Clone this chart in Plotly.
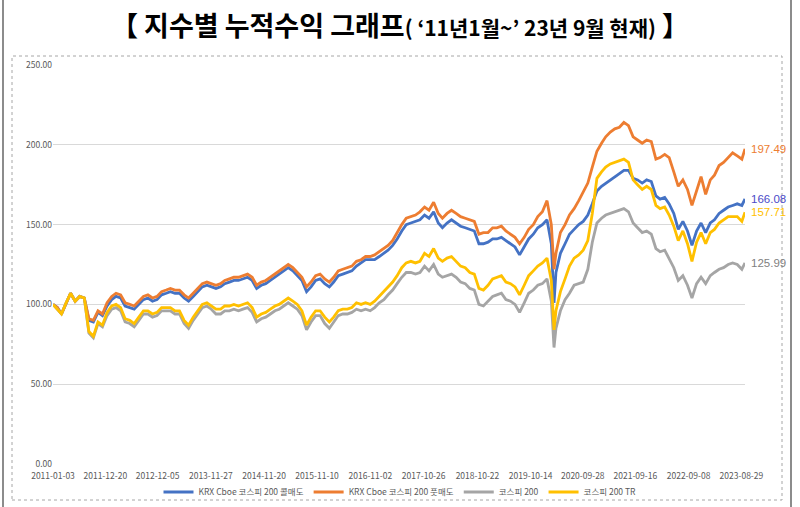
import plotly.graph_objects as go

dates = [
    "2011-01-03", "2011-02-01", "2011-03-01", "2011-04-01", "2011-05-01", "2011-06-01",
    "2011-07-01", "2011-08-01", "2011-09-01", "2011-10-01", "2011-11-01", "2011-12-01",
    "2012-01-01", "2012-02-01", "2012-03-01", "2012-04-01", "2012-05-01", "2012-06-01",
    "2012-07-01", "2012-08-01", "2012-09-01", "2012-10-01", "2012-11-01", "2012-12-01",
    "2013-01-01", "2013-02-01", "2013-03-01", "2013-04-01", "2013-05-01", "2013-06-01",
    "2013-07-01", "2013-08-01", "2013-09-01", "2013-10-01", "2013-11-01", "2013-12-01",
    "2014-01-01", "2014-02-01", "2014-03-01", "2014-04-01", "2014-05-01", "2014-06-01",
    "2014-07-01", "2014-08-01", "2014-09-01", "2014-10-01", "2014-11-01", "2014-12-01",
    "2015-01-01", "2015-02-01", "2015-03-01", "2015-04-01", "2015-05-01", "2015-06-01",
    "2015-07-01", "2015-08-01", "2015-09-01", "2015-10-01", "2015-11-01", "2015-12-01",
    "2016-01-01", "2016-02-01", "2016-03-01", "2016-04-01", "2016-05-01", "2016-06-01",
    "2016-07-01", "2016-08-01", "2016-09-01", "2016-10-01", "2016-11-01", "2016-12-01",
    "2017-01-01", "2017-02-01", "2017-03-01", "2017-04-01", "2017-05-01", "2017-06-01",
    "2017-07-01", "2017-08-01", "2017-09-01", "2017-10-01", "2017-11-01", "2017-12-01",
    "2018-01-01", "2018-02-01", "2018-03-01", "2018-04-01", "2018-05-01", "2018-06-01",
    "2018-07-01", "2018-08-01", "2018-09-01", "2018-10-01", "2018-11-01", "2018-12-01",
    "2019-01-01", "2019-02-01", "2019-03-01", "2019-04-01", "2019-05-01", "2019-06-01",
    "2019-07-01", "2019-08-01", "2019-09-01", "2019-10-01", "2019-11-01", "2019-12-01",
    "2020-01-01", "2020-02-01", "2020-03-01", "2020-03-19", "2020-04-01", "2020-05-01",
    "2020-06-01", "2020-07-01", "2020-08-01", "2020-09-01", "2020-10-01", "2020-11-01",
    "2020-12-01",
    "2021-01-01", "2021-02-01", "2021-03-01", "2021-04-01", "2021-05-01", "2021-06-01",
    "2021-07-01", "2021-08-01", "2021-09-01", "2021-10-01", "2021-11-01", "2021-12-01",
    "2022-01-01", "2022-02-01", "2022-03-01", "2022-04-01", "2022-05-01", "2022-06-01",
    "2022-07-01", "2022-08-01", "2022-09-01", "2022-10-01", "2022-11-01", "2022-12-01",
    "2023-01-01", "2023-02-01", "2023-03-01", "2023-04-01", "2023-05-01", "2023-06-01",
    "2023-07-01", "2023-08-01", "2023-09-01", "2023-09-22",
]

# KRX Cboe 코스피 200 콜매도 (blue)
call_write = [
    100, 98, 94, 101, 107, 102, 105, 104, 90, 89, 95, 93,
    99, 103, 105, 104, 99, 98, 97, 100, 103, 104, 102, 103,
    106, 107, 108, 107, 107, 104, 102, 105, 108, 111, 112, 111,
    110, 111, 113, 114, 115, 115, 116, 117, 115, 110, 112, 113,
    115, 117, 119, 121, 123, 121, 118, 115, 108, 111, 115, 116,
    113, 111, 114, 118, 119, 120, 121, 124, 126, 128, 128, 128,
    130, 132, 134, 137, 141, 146, 150, 151, 152, 153, 156, 154,
    158, 151, 148, 151, 153, 151, 149, 148, 147, 146, 138, 138,
    139, 141, 141, 142, 140, 138, 136, 131, 136, 141, 144, 148,
    150, 153, 138, 101, 120, 132, 138, 144, 147, 150, 152, 156, 163,
    171, 174, 176, 178, 180, 182, 184, 184, 179, 178, 176, 178,
    177, 168, 166, 167, 163, 157, 147, 152, 146, 137, 146, 151,
    145, 151, 153, 157, 159, 161, 162, 163, 162, 166.08,
]

# KRX Cboe 코스피 200 풋매도 (orange)
put_write = [
    100, 98, 94, 101, 107, 102, 105, 104, 91, 90, 96, 94,
    101, 105, 107, 106, 101, 100, 99, 102, 105, 106, 104, 105,
    108, 109, 110, 109, 109, 106, 104, 107, 110, 113, 114, 113,
    112, 113, 115, 116, 117, 117, 118, 119, 117, 112, 114, 115,
    117, 119, 121, 123, 125, 123, 120, 117, 111, 114, 118, 119,
    116, 114, 117, 121, 122, 123, 124, 127, 128, 130, 130, 131,
    133, 135, 137, 140, 145, 150, 154, 155, 156, 158, 161, 159,
    164, 157, 154, 157, 159, 157, 155, 154, 153, 152, 144, 145,
    145, 148, 148, 149, 146, 144, 142, 138, 142, 147, 150, 155,
    158, 165, 150, 122, 132, 145, 150, 156, 160, 165, 170, 176, 186,
    196, 201, 205, 208, 210, 211, 214, 212, 205, 203, 201, 203,
    202, 191, 192, 194, 192, 183, 174, 178, 172, 162, 172, 180,
    169, 178, 181, 187, 189, 192, 195, 193, 191, 197.49,
]

# 코스피 200 (gray)
kospi200 = [
    100, 97, 94, 101, 107, 102, 105, 104, 82, 79, 88, 86,
    93, 97, 98, 96, 89, 88, 86, 90, 94, 94, 92, 93,
    96, 96, 96, 94, 94, 88, 85, 90, 94, 98, 99, 97,
    94, 94, 96, 96, 97, 96, 97, 98, 95, 89, 91, 92,
    94, 96, 97, 99, 101, 99, 97, 93, 84, 89, 93, 93,
    88, 85, 89, 93, 94, 94, 95, 97, 96, 97, 96, 98,
    101, 103, 106, 109, 113, 117, 120, 120, 119, 120, 124, 121,
    125, 119, 117, 118, 119, 117, 114, 113, 110, 109, 100, 99,
    102, 105, 106, 107, 103, 102, 100, 95, 101, 107, 109, 112,
    113, 116, 102, 73, 85, 96, 103, 107, 112, 113, 114, 122, 139,
    151, 154, 156, 157, 158, 159, 160, 158, 151, 148, 145, 146,
    144, 135, 133, 134, 129, 123, 115, 118, 112, 104, 113, 117,
    113, 118, 120, 122, 123, 125, 126, 125, 122, 125.99,
]

# 코스피 200 TR (yellow)
kospi200_tr = [
    100, 97, 94, 101, 107, 102, 105, 104, 83, 80, 89, 87,
    95, 99, 100, 98, 91, 90, 88, 92, 96, 96, 94, 95,
    98, 98, 98, 96, 96, 90, 87, 92, 96, 100, 101, 99,
    97, 97, 99, 99, 100, 99, 100, 101, 98, 92, 94, 95,
    97, 99, 100, 102, 104, 102, 100, 96, 87, 92, 96, 96,
    92, 89, 92, 96, 97, 97, 98, 101, 100, 101, 100, 102,
    105, 108, 111, 114, 118, 123, 126, 127, 126, 127, 132, 130,
    135, 129, 127, 129, 130, 127, 124, 123, 120, 119, 110, 109,
    112, 116, 117, 118, 114, 113, 111, 106, 112, 118, 121, 124,
    126, 129, 115, 84, 96, 108, 116, 124, 129, 131, 134, 140, 157,
    179, 183, 186, 188, 189, 190, 191, 189, 178, 175, 172, 174,
    172, 162, 160, 161, 156, 149, 140, 146, 138, 127, 139, 145,
    138, 145, 147, 151, 153, 155, 155, 155, 152, 157.71,
]

tick_dates = [
    "2011-01-03", "2011-12-20", "2012-12-05", "2013-11-27", "2014-11-20",
    "2015-11-10", "2016-11-02", "2017-10-26", "2018-10-22", "2019-10-14",
    "2020-09-28", "2021-09-16", "2022-09-08", "2023-08-29",
]
y_ticks = [0, 50, 100, 150, 200, 250]

series = [
    ("KRX Cboe 코스피 200 콜매도", call_write, "#4472C4", "#4B4BC8"),
    ("KRX Cboe 코스피 200 풋매도", put_write, "#ED7D31", "#ED7D31"),
    ("코스피 200", kospi200, "#A5A5A5", "#7F7F7F"),
    ("코스피 200 TR", kospi200_tr, "#FFC000", "#FFC000"),
]

FONT = "Noto Sans CJK KR, Noto Sans, sans-serif"

fig = go.Figure()
annotations = []
for name, vals, col, lab_col in series:
    fig.add_trace(go.Scatter(
        x=dates, y=vals, mode="lines", name=name,
        line=dict(color=col, width=2.8),
    ))
    annotations.append(dict(
        x=dates[-1], y=vals[-1], xref="x", yref="y",
        text=f"{vals[-1]:.2f}", showarrow=False,
        xanchor="left", yanchor="middle", xshift=4,
        font=dict(family="Liberation Sans Narrow, Liberation Sans, sans-serif",
                  size=11.5, color=lab_col),
    ))

fig.update_layout(
    width=800, height=507, autosize=False,
    margin=dict(l=53, r=55, t=65, b=43, autoexpand=False),
    paper_bgcolor="white", plot_bgcolor="white",
    font=dict(family=FONT, size=9, color="#595959"),
    title=dict(
        text="<b>【 지수별 누적수익 그래프<span style='font-size:21px'>( ‘11년1월~’ 23년 9월 현재)</span> 】</b>",
        x=0.5, xanchor="center", xref="container",
        y=1 - 27 / 507, yanchor="middle", yref="container",
        font=dict(family=FONT, size=27, color="#000000"),
    ),
    xaxis=dict(
        type="date", range=[dates[0], dates[-1]],
        tickmode="array", tickvals=tick_dates, ticktext=tick_dates,
        showgrid=False, zeroline=False, showline=False, ticks="",
        automargin=False, ticklabelstandoff=5,
        tickfont=dict(size=8.5, color="#595959"),
    ),
    yaxis=dict(
        range=[0, 250], tickmode="array", tickvals=y_ticks, tickformat=".2f",
        showgrid=True, gridcolor="#D9D9D9", gridwidth=1,
        zeroline=False, showline=False, ticks="", automargin=False,
        tickfont=dict(size=8.5, color="#595959"),
    ),
    legend=dict(
        orientation="h", x=0.5, xanchor="center", xref="container",
        y=1 - 492 / 507, yanchor="middle", yref="container",
        font=dict(size=8.5, color="#595959"), bgcolor="rgba(0,0,0,0)",
        itemwidth=30,
    ),
    showlegend=True,
    annotations=annotations,
    shapes=[
        dict(type="rect", xref="paper", yref="paper",
             x0=(3 - 53) / 692, x1=(791 - 53) / 692,
             y0=(464 - 520) / 399, y1=(464 + 10) / 399,
             line=dict(color="#8C8C8C", width=2), layer="below"),
        dict(type="rect", xref="paper", yref="paper",
             x0=(12 - 53) / 692, x1=(782 - 53) / 692,
             y0=(464 - 500) / 399, y1=(464 - 56) / 399,
             line=dict(color="#A6A6A6", width=1, dash="dot"), layer="below"),
    ],
)

fig.write_html("out.html")
